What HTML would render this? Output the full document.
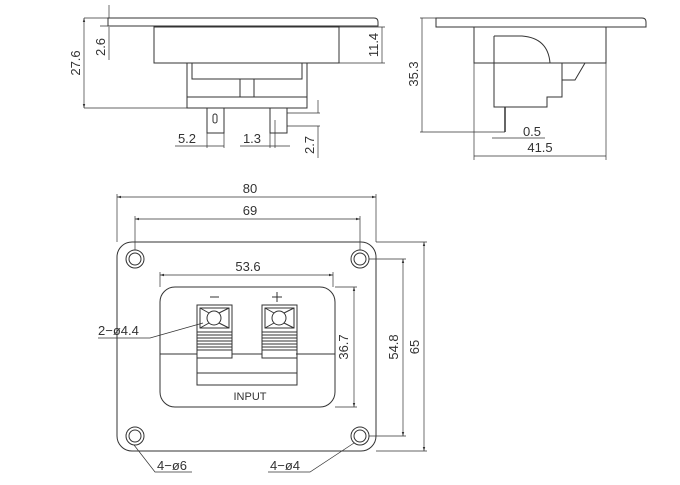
<!DOCTYPE html>
<html><head><style>
body{margin:0;background:#fff;}
svg{display:block;font-family:"Liberation Sans",sans-serif;}
</style></head><body>
<svg width="680" height="485" viewBox="0 0 680 485" xmlns="http://www.w3.org/2000/svg">
<defs><marker id="a" viewBox="0 0 10 10" refX="10" refY="5" markerWidth="6" markerHeight="6" orient="auto-start-reverse"><path d="M0,2 L10,5 L0,8 z" fill="#333"/></marker></defs>
<g fill="none" stroke="#333" stroke-width="1">
<!-- top left view -->
<path d="M108,18 H374 Q378,18 378,22 V26 H108 Z"/>
<rect x="154" y="27" width="185" height="36"/>
<rect x="187" y="63" width="120" height="45"/>
<path d="M192,63 V79 H302 V63 M187,97 H307 M240,79 V97 M254,79 V97"/>
<rect x="207" y="108" width="17" height="25"/>
<rect x="270" y="108" width="17" height="25"/>
<rect x="213" y="114" width="4" height="9" rx="2"/>
<path d="M84,18 H108 M84,108 H187" stroke-width="0.7"/>
<line x1="84" y1="18" x2="84" y2="108" marker-start="url(#a)" marker-end="url(#a)" stroke-width="0.7"/>
<path d="M109,5 V18 M109,27 V60 M100,26 H113" stroke-width="0.7"/>
<path d="M339,27 H385 M339,63 H385 M382,27 V63" stroke-width="0.7"/>
<path d="M207,133 V148 M224,133 V148 M175,146 H224 M270,133 V148 M275,120 V148 M240,146 H290 M287,113 H320 M287,126 H320 M318,100 V113 M318,126 V158" stroke-width="0.7"/>
<!-- right view -->
<path d="M436,18 H642 Q646,18 646,22 V27 H436 Z"/>
<rect x="474" y="27" width="132" height="36"/>
<path d="M494,36 V107 H547 V97 H562 V63 H606 M494,36 H522 Q548,38 550,63 H562 M562,63 V80 H575 L585,63"/>
<path d="M505,107 V132" stroke-width="1.5"/>
<path d="M420,18 H436 M420,132 H505 M422,18 V132" stroke-width="0.7"/>
<path d="M492,138 H545 M474,63 V160 M606,63 V160 M474,156 H606" stroke-width="0.7"/>
<!-- front view -->
<rect x="117" y="242" width="259" height="209" rx="15"/>
<circle cx="135" cy="259" r="9"/><circle cx="135" cy="259" r="6"/>
<circle cx="360" cy="259" r="9"/><circle cx="360" cy="259" r="6"/>
<circle cx="135" cy="436" r="9"/><circle cx="135" cy="436" r="6"/>
<circle cx="360" cy="436" r="9"/><circle cx="360" cy="436" r="6"/>
<rect x="160" y="287" width="175" height="120" rx="15"/>
<path d="M160,354 H197 M232,354 H262 M296,354 H335"/>
<g>
<rect x="197" y="305" width="35" height="53"/>
<rect x="200" y="308" width="29" height="20"/>
<circle cx="214" cy="318" r="7"/>
<path d="M200,308 L209,313 M229,308 L219,313 M200,328 L209,323 M229,328 L219,323 M197,332 H232 M197,335 H232 M197,338 H232 M197,341 H232 M197,344 H232 M197,347 H232 M197,350 H232"/>
</g>
<g transform="translate(65,0)">
<rect x="197" y="305" width="35" height="53"/>
<rect x="200" y="308" width="29" height="20"/>
<circle cx="214" cy="318" r="7"/>
<path d="M200,308 L209,313 M229,308 L219,313 M200,328 L209,323 M229,328 L219,323 M197,332 H232 M197,335 H232 M197,338 H232 M197,341 H232 M197,344 H232 M197,347 H232 M197,350 H232"/>
</g>
<path d="M197,358 V385 H297 V358 M197,373 H297"/>
<path d="M210,297 H219 M272,297 H282 M277,292 V302"/>
<g stroke-width="0.7">
<path d="M117,242 V194 M376,242 V194 M135,250 V216 M360,250 V216 M160,287 V272 M333,287 V272"/>
<line x1="117" y1="197" x2="376" y2="197" marker-start="url(#a)" marker-end="url(#a)"/>
<line x1="135" y1="219" x2="360" y2="219" marker-start="url(#a)" marker-end="url(#a)"/>
<line x1="160" y1="275" x2="333" y2="275" marker-start="url(#a)" marker-end="url(#a)"/>
<path d="M335,287 H357 M335,407 H357 M369,259 H406 M369,436 H406 M376,242 H427 M376,451 H427"/>
<line x1="354" y1="287" x2="354" y2="407" marker-start="url(#a)" marker-end="url(#a)"/>
<line x1="403" y1="259" x2="403" y2="436" marker-start="url(#a)" marker-end="url(#a)"/>
<line x1="424" y1="242" x2="424" y2="451" marker-start="url(#a)" marker-end="url(#a)"/>
<path d="M98,338 H150 L203,323"/>
<path d="M134,445 L155,472 H192"/>
<path d="M268,472 H310 L354,443"/>
</g>
</g>
<g fill="#333" font-size="13">
<text x="250" y="193" text-anchor="middle">80</text>
<text x="250" y="215" text-anchor="middle">69</text>
<text x="248" y="271" text-anchor="middle">53.6</text>
<text x="250" y="400" text-anchor="middle" font-size="11">INPUT</text>
<text x="98" y="335">2−ø4.4</text>
<text x="157" y="470">4−ø6</text>
<text x="270" y="470">4−ø4</text>
<text transform="translate(348,347) rotate(-90)" text-anchor="middle">36.7</text>
<text transform="translate(398,347) rotate(-90)" text-anchor="middle">54.8</text>
<text transform="translate(419,347) rotate(-90)" text-anchor="middle">65</text>
<text transform="translate(80,63) rotate(-90)" text-anchor="middle">27.6</text>
<text transform="translate(105,47) rotate(-90)" text-anchor="middle">2.6</text>
<text transform="translate(378,45) rotate(-90)" text-anchor="middle">11.4</text>
<text transform="translate(314,145) rotate(-90)" text-anchor="middle">2.7</text>
<text x="187" y="143" text-anchor="middle">5.2</text>
<text x="252" y="143" text-anchor="middle">1.3</text>
<text transform="translate(418,74) rotate(-90)" text-anchor="middle">35.3</text>
<text x="532" y="136" text-anchor="middle">0.5</text>
<text x="540" y="152" text-anchor="middle">41.5</text>
</g>
</svg>
</body></html>
